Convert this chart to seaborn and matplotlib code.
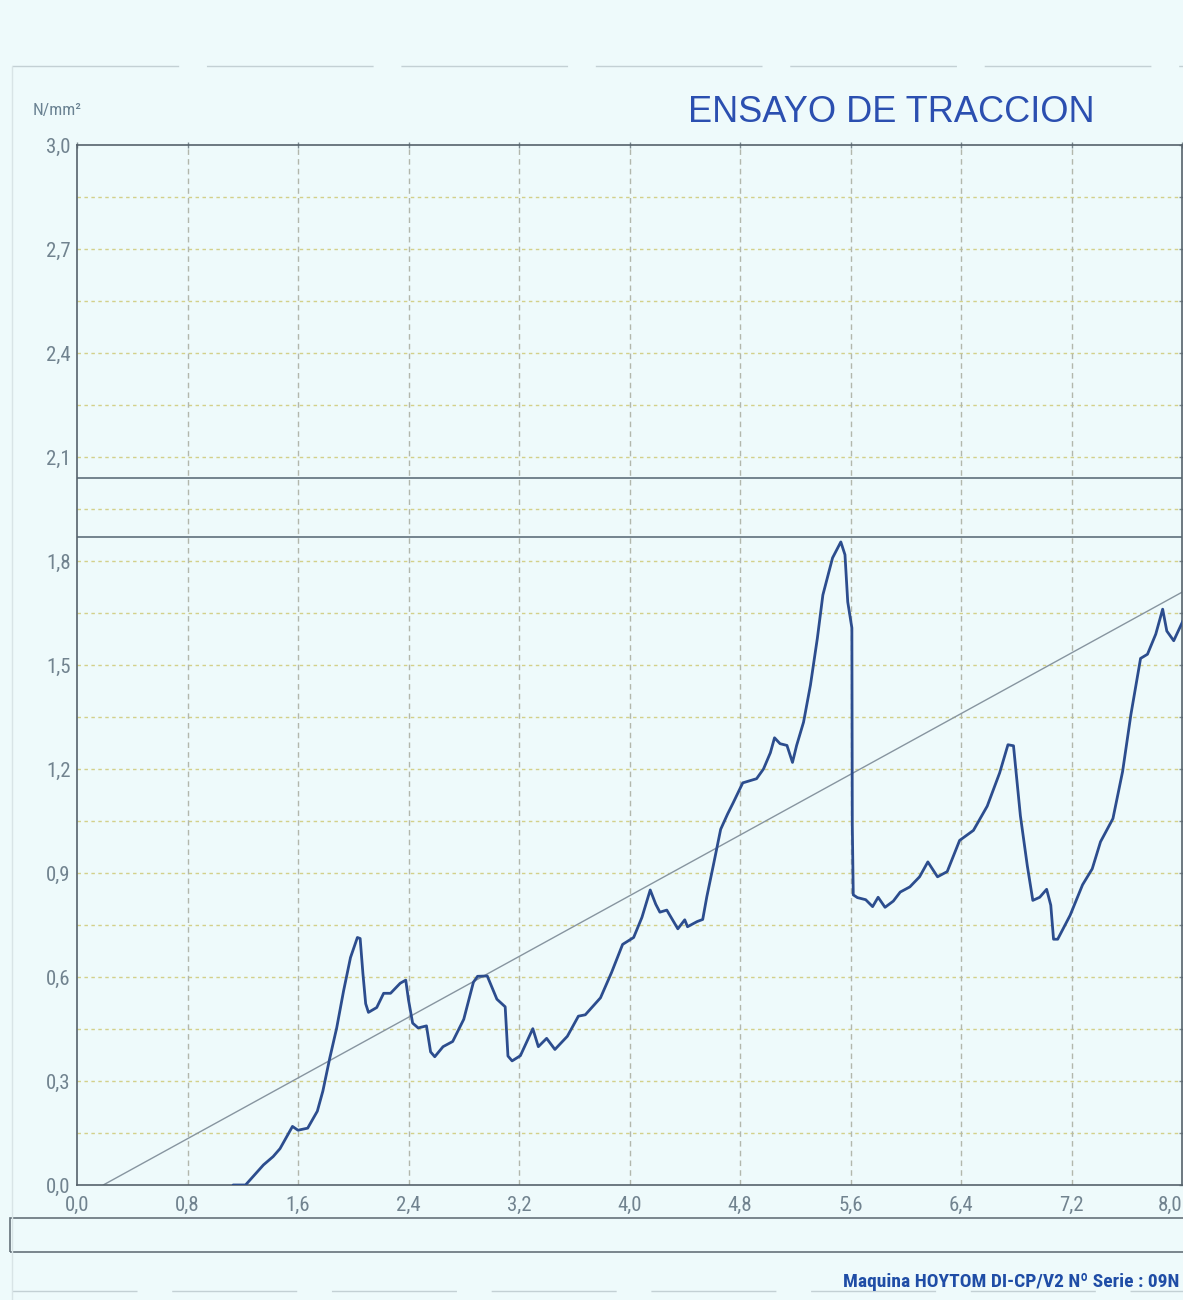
import numpy as np
import matplotlib
matplotlib.use("Agg")
import matplotlib.pyplot as plt
from matplotlib.ticker import MultipleLocator, FuncFormatter
from matplotlib.patches import Rectangle
from matplotlib import font_manager
import seaborn as sns

# values (deformation, N/mm2)
strain = [1.13, 1.22, 1.35, 1.42, 1.47, 1.56, 1.60, 1.67, 1.74, 1.78,
          1.83, 1.88, 1.93, 1.98, 2.03, 2.05, 2.07, 2.09, 2.11, 2.17,
          2.22, 2.27, 2.34, 2.38, 2.40, 2.43, 2.47, 2.53, 2.56, 2.59,
          2.65, 2.72, 2.80, 2.87, 2.90, 2.97, 3.04, 3.10, 3.12, 3.15,
          3.21, 3.30, 3.34, 3.40, 3.46, 3.55, 3.63, 3.68, 3.79, 3.87,
          3.95, 4.03, 4.09, 4.15, 4.19, 4.22, 4.27, 4.35, 4.40, 4.42,
          4.49, 4.53, 4.56, 4.61, 4.66, 4.71, 4.75, 4.82, 4.92, 4.97,
          5.02, 5.05, 5.09, 5.14, 5.18, 5.21, 5.26, 5.31, 5.36, 5.40,
          5.47, 5.53, 5.56, 5.58, 5.61, 5.613, 5.62, 5.65, 5.71, 5.76,
          5.80, 5.85, 5.91, 5.96, 6.03, 6.10, 6.16, 6.23, 6.30, 6.39,
          6.49, 6.59, 6.68, 6.74, 6.78, 6.83, 6.88, 6.92, 6.97, 7.02,
          7.05, 7.07, 7.10, 7.19, 7.28, 7.35, 7.41, 7.50, 7.57, 7.63,
          7.70, 7.75, 7.81, 7.86, 7.89, 7.94, 8.01]
stress = [0.00, 0.00, 0.058, 0.082, 0.105, 0.169, 0.158, 0.164, 0.213, 0.271,
          0.366, 0.453, 0.560, 0.656, 0.714, 0.711, 0.610, 0.523, 0.498, 0.512,
          0.553, 0.553, 0.582, 0.591, 0.534, 0.467, 0.453, 0.459, 0.384, 0.370,
          0.399, 0.414, 0.478, 0.585, 0.602, 0.603, 0.536, 0.514, 0.372, 0.358,
          0.373, 0.451, 0.399, 0.423, 0.391, 0.429, 0.487, 0.491, 0.540, 0.613,
          0.694, 0.714, 0.772, 0.851, 0.810, 0.787, 0.793, 0.739, 0.765, 0.745,
          0.760, 0.766, 0.832, 0.928, 1.026, 1.070, 1.102, 1.160, 1.172, 1.200,
          1.247, 1.290, 1.273, 1.268, 1.219, 1.268, 1.335, 1.442, 1.577, 1.702,
          1.809, 1.855, 1.818, 1.682, 1.607, 1.039, 0.837, 0.829, 0.823, 0.803,
          0.830, 0.801, 0.819, 0.845, 0.860, 0.889, 0.932, 0.889, 0.904, 0.994,
          1.023, 1.093, 1.189, 1.270, 1.267, 1.065, 0.921, 0.821, 0.830, 0.853,
          0.807, 0.709, 0.709, 0.778, 0.866, 0.912, 0.990, 1.057, 1.193, 1.357,
          1.519, 1.531, 1.589, 1.661, 1.598, 1.570, 1.630]

# straight reference line and the two horizontal limit lines
trend_x = [0.19, 8.0]
trend_y = [0.0, 1.71]
limit_levels = [1.87, 2.04]

x_ticks = [0.0, 0.8, 1.6, 2.4, 3.2, 4.0, 4.8, 5.6, 6.4, 7.2, 8.0]
y_ticks = [0.0, 0.3, 0.6, 0.9, 1.2, 1.5, 1.8, 2.1, 2.4, 2.7, 3.0]

BG = "#eefafb"
TICK_COL = "#71838f"

# pick a narrow face if one is installed
names = {f.name for f in font_manager.fontManager.ttflist}
narrow = [n for n in ["Liberation Sans Narrow", "Roboto Condensed",
                      "DejaVu Sans Condensed", "Open Sans Condensed"] if n in names]
narrow = narrow + ["DejaVu Sans"]

sns.set_theme(style="white")
plt.rcParams["font.family"] = ["Liberation Sans", "DejaVu Sans"]

W, H = 1183, 1300
fig = plt.figure(figsize=(W / 100, H / 100), dpi=100, facecolor=BG)
ax = fig.add_axes([77 / W, 1 - 1185 / H, 1105 / W, 1040 / H], facecolor=BG)

# grid
for yv in np.arange(0.15, 3.0, 0.15):
    ax.axhline(yv, color="#d3d08a", lw=1.0, ls=(0, (2.5, 2.5)), zorder=1)
for xv in x_ticks[1:-1]:
    ax.axvline(xv, color="#b2b7ac", lw=1.0, ls=(0, (4, 3)), zorder=1)

for lvl in limit_levels:
    ax.axhline(lvl, color="#5f6f7b", lw=1.2, zorder=2)

sns.lineplot(x=trend_x, y=trend_y, ax=ax, color="#8795a0", lw=1.0, zorder=2)
sns.lineplot(x=strain, y=stress, ax=ax, sort=False, estimator=None,
             color="#2c4d8e", lw=2.0, zorder=3)

ax.set_xlim(0, 8.0)
ax.set_ylim(0, 3.0)
ax.set_xticks(x_ticks)
ax.set_yticks(y_ticks)
ax.yaxis.set_minor_locator(MultipleLocator(0.15))
fmt = FuncFormatter(lambda v, p: f"{v:.1f}".replace(".", ","))
ax.xaxis.set_major_formatter(fmt)
ax.yaxis.set_major_formatter(fmt)
ax.set_xlabel("")
ax.set_ylabel("")

ax.tick_params(axis="both", which="both", direction="inout", color="#7d8a90",
               length=5, width=1, labelcolor=TICK_COL, labelsize=15,
               top=True, right=True)
ax.tick_params(axis="x", pad=5)
ax.tick_params(axis="y", pad=2)
for lab in ax.get_xticklabels() + ax.get_yticklabels():
    lab.set_family(narrow)
    lab.set_stretch("condensed")
# last x label sits on the page edge: keep it inside
ax.get_xticklabels()[-1].set_ha("right")

for sp in ax.spines.values():
    sp.set_color("#56626b")
    sp.set_linewidth(1.2)

# texts
fig.text(891 / W, 1 - 112 / H, "ENSAYO DE TRACCION", ha="center", va="center",
         fontsize=26, color="#2b4fb0")
fig.text(33 / W, 1 - 110 / H, "N/mm²", ha="left", va="center",
         fontsize=12.5, color="#6a8292", family=narrow, stretch="condensed")
fig.text(1179 / W, 1 - 1282 / H, "Maquina HOYTOM DI-CP/V2 Nº Serie : 09N",
         ha="right", va="center", fontsize=14, fontweight="bold",
         color="#1f4da6", family=narrow, stretch="condensed")

# empty comments box under the chart and faint page edges
fig.patches.append(Rectangle((10 / W, 1 - 1252 / H), 1180 / W, 34 / H,
                             transform=fig.transFigure, fill=False,
                             edgecolor="#66727a", lw=1.2))
fig.lines.append(plt.Line2D([12 / W, 1.0], [1 - 66 / H, 1 - 66 / H],
                            transform=fig.transFigure, color="#c3d0d4",
                            lw=1.0, ls=(0, (120, 20))))
fig.lines.append(plt.Line2D([12 / W, 1.0], [1 - 1291 / H, 1 - 1291 / H],
                            transform=fig.transFigure, color="#c3d0d4",
                            lw=1.0, ls=(0, (90, 25))))
fig.lines.append(plt.Line2D([12 / W, 12 / W], [0, 1 - 66 / H],
                            transform=fig.transFigure, color="#d8e4e6", lw=1.0))

fig.savefig("out.png", dpi=100, facecolor=BG)
